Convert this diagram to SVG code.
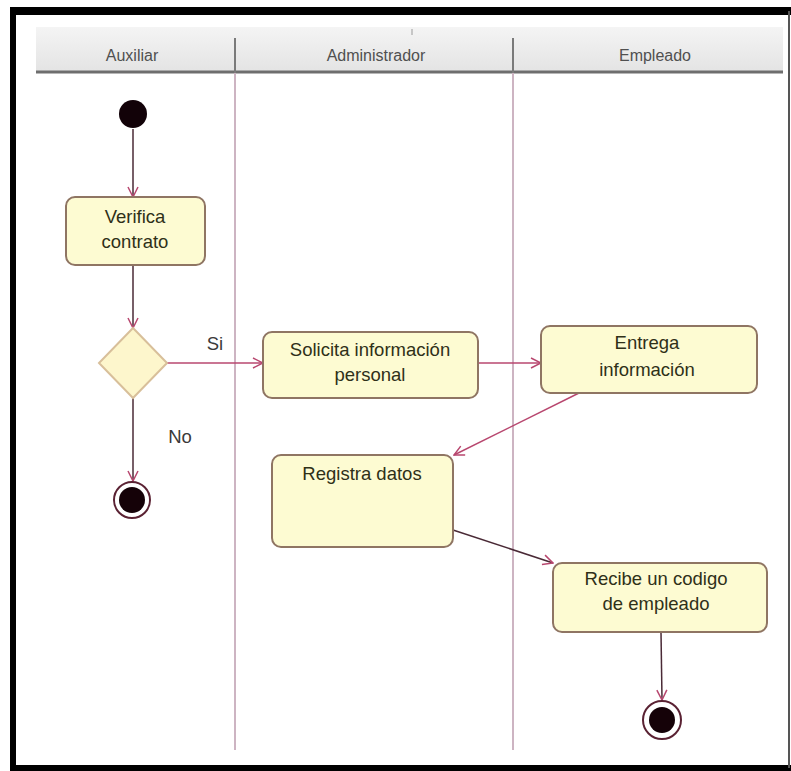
<svg xmlns="http://www.w3.org/2000/svg" width="791" height="771" viewBox="0 0 791 771">
  <defs>
    <marker id="open" viewBox="0 0 12 12" refX="11" refY="6" markerWidth="12" markerHeight="12" markerUnits="userSpaceOnUse" orient="auto">
      <path d="M1,1 L11,6 L1,11" fill="none" stroke="#b8476f" stroke-width="1.5"/>
    </marker>
    <linearGradient id="hdr" x1="0" y1="0" x2="0" y2="1">
      <stop offset="0" stop-color="#f4f4f4"/>
      <stop offset="1" stop-color="#e4e4e4"/>
    </linearGradient>
  </defs>
  <style>
    .lane { font-family: "Liberation Sans", Arial, sans-serif; font-size: 16px; fill: #505050; text-anchor: middle; }
    .act rect { fill: #fdfbd2; stroke: #8f7563; stroke-width: 2; }
    .act text, .lbl { font-family: "Liberation Sans", Arial, sans-serif; font-size: 18.5px; fill: #2f3018; text-anchor: middle; }
    .lbl { fill: #3a3a3a; }
    .divider { stroke: #cdb4c2; stroke-width: 2; }
    .divhead { stroke: #7a7a7a; stroke-width: 2; }
    .dark { stroke: #4a2a36; stroke-width: 1.5; fill: none; marker-end: url(#open); }
    .pink { stroke: #b8476f; stroke-width: 1.5; fill: none; marker-end: url(#open); }
  </style>

  <rect width="791" height="771" fill="#ffffff"/>

  <!-- swimlane header -->
  <g id="header">
    <rect x="36" y="27" width="747" height="44" fill="url(#hdr)"/>
    <line x1="36" y1="72" x2="783" y2="72" stroke="#6e6e6e" stroke-width="3"/>
    <line x1="412" y1="29" x2="412" y2="35" stroke="#9a9a9a" stroke-width="1"/>
    <text class="lane" x="132" y="61">Auxiliar</text>
    <text class="lane" x="376" y="61">Administrador</text>
    <text class="lane" x="655" y="61">Empleado</text>
  </g>

  <!-- lane dividers -->
  <g id="lanes">
    <line class="divhead" x1="235" y1="38" x2="235" y2="73"/>
    <line class="divhead" x1="513" y1="38" x2="513" y2="73"/>
    <line class="divider" x1="235" y1="73" x2="235" y2="750"/>
    <line class="divider" x1="513" y1="73" x2="513" y2="750"/>
  </g>

  <!-- connectors -->
  <g id="connectors">
    <path class="dark" d="M133,129 L133,197"/>
    <path class="dark" d="M133,265 L133,328"/>
    <path class="pink" d="M167,363 L263,363"/>
    <path class="dark" d="M133,398 L133,481"/>
    <path class="pink" d="M478,363 L541,363"/>
    <path class="pink" d="M579,393 L454,455"/>
    <path class="dark" d="M453,530 L553,563"/>
    <path class="dark" d="M661,632 L662,700"/>
  </g>

  <!-- nodes -->
  <g id="start">
    <circle cx="133" cy="114" r="14" fill="#120208"/>
  </g>

  <g id="verifica" class="act">
    <rect x="66" y="197" width="139" height="68" rx="9"/>
    <text x="135" y="223">Verifica</text>
    <text x="135" y="248">contrato</text>
  </g>

  <g id="decision">
    <path d="M133,328 L167,363 L133,398 L99,363 Z" fill="#fdf6cc" stroke="#d8bf9a" stroke-width="2"/>
  </g>

  <g id="end1">
    <circle cx="132" cy="500" r="18" fill="#ffffff" stroke="#5a2233" stroke-width="2"/>
    <circle cx="132" cy="500" r="13" fill="#150208"/>
  </g>

  <g id="solicita" class="act">
    <rect x="263" y="332" width="215" height="66" rx="9"/>
    <text x="370" y="356">Solicita información</text>
    <text x="370" y="381">personal</text>
  </g>

  <g id="entrega" class="act">
    <rect x="541" y="326" width="216" height="67" rx="9"/>
    <text x="647" y="349">Entrega</text>
    <text x="647" y="376">información</text>
  </g>

  <g id="registra" class="act">
    <rect x="272" y="455" width="181" height="92" rx="9"/>
    <text x="362" y="480">Registra datos</text>
  </g>

  <g id="recibe" class="act">
    <rect x="553" y="563" width="214" height="69" rx="9"/>
    <text x="656" y="585">Recibe un codigo</text>
    <text x="656" y="610">de empleado</text>
  </g>

  <g id="end2">
    <circle cx="662" cy="720" r="19" fill="#ffffff" stroke="#5a2233" stroke-width="2"/>
    <circle cx="662" cy="720" r="13" fill="#150208"/>
  </g>

  <!-- guard labels -->
  <text class="lbl" x="215" y="350">Si</text>
  <text class="lbl" x="180" y="443">No</text>

  <!-- outer frame -->
  <g id="frame">
    <line x1="10" y1="11" x2="791" y2="11" stroke="#000" stroke-width="8"/>
    <line x1="13" y1="7" x2="13" y2="771" stroke="#000" stroke-width="6"/>
    <line x1="10" y1="768" x2="791" y2="768" stroke="#000" stroke-width="6"/>
    <line x1="789" y1="11" x2="789" y2="768" stroke="#555" stroke-width="2"/>
  </g>
</svg>
